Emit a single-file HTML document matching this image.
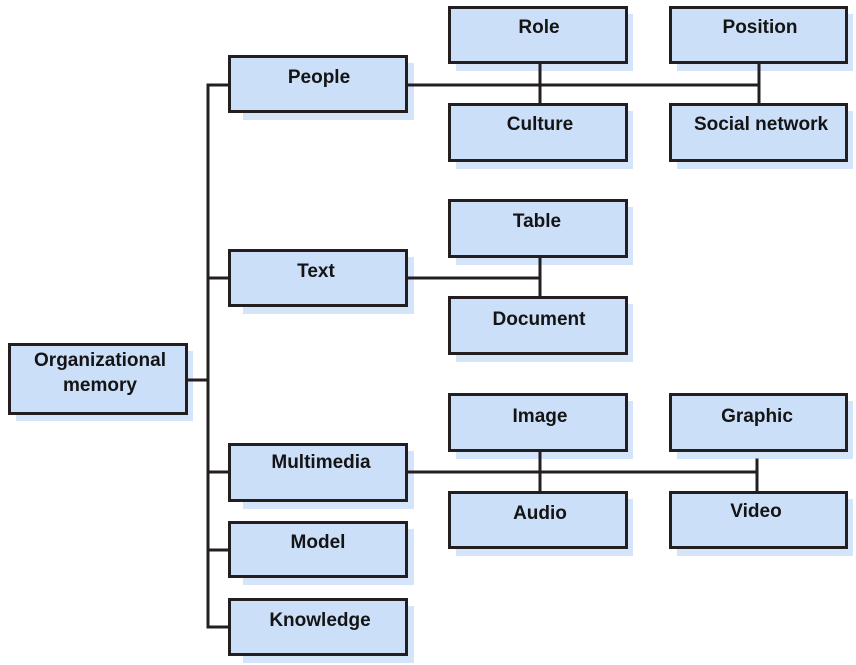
<!DOCTYPE html>
<html>
<head>
<meta charset="utf-8">
<style>
  html, body { margin: 0; padding: 0; background: #ffffff; }
  body { width: 856px; height: 665px; overflow: hidden; }
  svg { display: block; }
  text { font-family: "Liberation Sans", "DejaVu Sans", sans-serif; font-weight: bold; font-size: 19px; fill: #141414; text-anchor: middle; }
</style>
</head>
<body>
<svg width="856" height="665" viewBox="0 0 856 665" xmlns="http://www.w3.org/2000/svg">
  <!-- shadows -->
  <g fill="#d4e5fa">
    <rect x="16" y="351" width="177" height="70"/>
    <rect x="243" y="63" width="171" height="57"/>
    <rect x="243" y="257" width="171" height="57"/>
    <rect x="243" y="451" width="171" height="58"/>
    <rect x="243" y="529" width="171" height="56"/>
    <rect x="243" y="606" width="171" height="57"/>
    <rect x="456" y="14" width="177" height="57"/>
    <rect x="677" y="14" width="176" height="57"/>
    <rect x="456" y="111" width="177" height="58"/>
    <rect x="677" y="111" width="176" height="58"/>
    <rect x="456" y="207" width="177" height="58"/>
    <rect x="456" y="304" width="177" height="58"/>
    <rect x="456" y="401" width="177" height="58"/>
    <rect x="677" y="401" width="176" height="58"/>
    <rect x="456" y="499" width="177" height="57"/>
    <rect x="677" y="499" width="176" height="57"/>
  </g>

  <!-- connectors -->
  <g stroke="#231f20" stroke-width="3" fill="none" stroke-linecap="square">
    <line x1="208" y1="85" x2="208" y2="627"/>
    <line x1="188" y1="380" x2="208" y2="380"/>
    <line x1="208" y1="85" x2="228" y2="85"/>
    <line x1="208" y1="278" x2="228" y2="278"/>
    <line x1="208" y1="472" x2="228" y2="472"/>
    <line x1="208" y1="550" x2="228" y2="550"/>
    <line x1="208" y1="627" x2="228" y2="627"/>

    <line x1="408" y1="85" x2="759" y2="85"/>
    <line x1="540" y1="64" x2="540" y2="103"/>
    <line x1="759" y1="64" x2="759" y2="103"/>

    <line x1="408" y1="278" x2="540" y2="278"/>
    <line x1="540" y1="258" x2="540" y2="296"/>

    <line x1="408" y1="472" x2="757" y2="472"/>
    <line x1="540" y1="452" x2="540" y2="491"/>
    <line x1="757" y1="460" x2="757" y2="491"/>
  </g>

  <!-- boxes -->
  <g fill="#cbdff8" stroke="#231f20" stroke-width="3">
    <rect x="9.5" y="344.5" width="177" height="69"/>
    <rect x="229.5" y="56.5" width="177" height="55"/>
    <rect x="229.5" y="250.5" width="177" height="55"/>
    <rect x="229.5" y="444.5" width="177" height="56"/>
    <rect x="229.5" y="522.5" width="177" height="54"/>
    <rect x="229.5" y="599.5" width="177" height="55"/>
    <rect x="449.5" y="7.5" width="177" height="55"/>
    <rect x="670.5" y="7.5" width="176" height="55"/>
    <rect x="449.5" y="104.5" width="177" height="56"/>
    <rect x="670.5" y="104.5" width="176" height="56"/>
    <rect x="449.5" y="200.5" width="177" height="56"/>
    <rect x="449.5" y="297.5" width="177" height="56"/>
    <rect x="449.5" y="394.5" width="177" height="56"/>
    <rect x="670.5" y="394.5" width="176" height="56"/>
    <rect x="449.5" y="492.5" width="177" height="55"/>
    <rect x="670.5" y="492.5" width="176" height="55"/>
  </g>

  <!-- labels -->
  <text x="100" y="366">Organizational</text>
  <text x="100" y="391">memory</text>
  <text x="319" y="83">People</text>
  <text x="316" y="277">Text</text>
  <text x="321" y="468">Multimedia</text>
  <text x="318" y="548">Model</text>
  <text x="320" y="626">Knowledge</text>
  <text x="539" y="33">Role</text>
  <text x="760" y="33">Position</text>
  <text x="540" y="130">Culture</text>
  <text x="761" y="130">Social network</text>
  <text x="537" y="227">Table</text>
  <text x="539" y="325">Document</text>
  <text x="540" y="422">Image</text>
  <text x="757" y="422">Graphic</text>
  <text x="540" y="519">Audio</text>
  <text x="756" y="517">Video</text>
</svg>
</body>
</html>
